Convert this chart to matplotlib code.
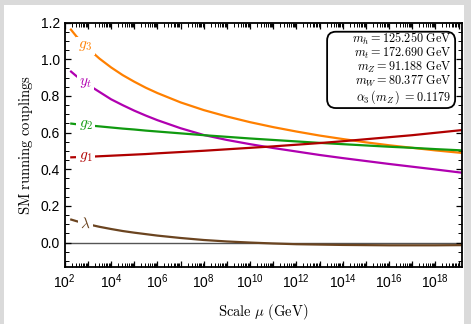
import numpy as np
import matplotlib
matplotlib.use("Agg")
import matplotlib.pyplot as plt
from matplotlib.patches import Rectangle, FancyBboxPatch
from matplotlib.ticker import FixedLocator, LogLocator, FuncFormatter, MultipleLocator, NullFormatter

plt.rcParams['font.family'] = ['Liberation Sans', 'DejaVu Sans']
plt.rcParams['mathtext.fontset'] = 'cm'

# ---- data (log10 of scale in GeV) ----
mu_exp = [2.237, 2.5, 3, 3.5, 4, 4.5, 5, 5.5, 6, 7, 8, 9, 10, 11, 12, 13, 14, 15, 16, 17, 18, 19.16]
g3 = [1.167, 1.126, 1.060, 1.004, 0.956, 0.914, 0.878, 0.845, 0.816, 0.765, 0.723, 0.688,
      0.657, 0.630, 0.606, 0.584, 0.565, 0.547, 0.531, 0.517, 0.503, 0.489]
yt = [0.937, 0.909, 0.862, 0.822, 0.782, 0.750, 0.720, 0.693, 0.668, 0.624, 0.587, 0.560,
      0.537, 0.516, 0.497, 0.478, 0.461, 0.445, 0.429, 0.414, 0.399, 0.381]
g2 = [0.650, 0.646, 0.640, 0.634, 0.628, 0.622, 0.617, 0.611, 0.606, 0.596, 0.586, 0.577,
      0.568, 0.560, 0.552, 0.544, 0.537, 0.530, 0.523, 0.517, 0.510, 0.503]
g1 = [0.465, 0.466, 0.468, 0.471, 0.474, 0.477, 0.480, 0.483, 0.487, 0.494, 0.501, 0.509,
      0.517, 0.525, 0.534, 0.543, 0.553, 0.564, 0.575, 0.586, 0.599, 0.614]
lam = [0.127, 0.117, 0.100, 0.086, 0.074, 0.063, 0.054, 0.046, 0.038, 0.025, 0.014, 0.006,
       0.000, -0.005, -0.009, -0.011, -0.013, -0.014, -0.015, -0.015, -0.015, -0.014]

series = [
    (g3, r'$g_3$', '#ff8000'),
    (yt, r'$y_t$', '#b000b0'),
    (g2, r'$g_2$', '#109a10'),
    (g1, r'$g_1$', '#b00000'),
    (lam, r'$\lambda$', '#6b4420'),
]
label_exp = 2.9

info_lines = [
    r'$m_h = 125.250\ \mathrm{GeV}$',
    r'$m_t = 172.690\ \mathrm{GeV}$',
    r'$m_Z = 91.188\ \mathrm{GeV}$',
    r'$m_W = 80.377\ \mathrm{GeV}$',
    r'$\alpha_3\,(m_Z\,)\; = 0.1179$',
]

mu = 10.0 ** np.array(mu_exp)

fig = plt.figure(figsize=(4.71, 3.24), dpi=100)
fig.patch.set_facecolor('#dadada')
fig.patches.append(Rectangle((4/471, 0), 460/471, 319/324, transform=fig.transFigure,
                             facecolor='white', edgecolor='none', zorder=-10))
ax = fig.add_axes([0.1374, 0.175, 0.8441, 0.755])

ax.axhline(0.0, color='#555555', lw=1.0, zorder=1)
for vals, lab, col in series:
    ax.plot(mu, vals, color=col, lw=1.6, zorder=2, solid_capstyle='butt')
    yl = np.interp(label_exp, mu_exp, vals)
    ax.text(10**label_exp, yl, lab, color=col, fontsize=11, ha='center', va='center',
            zorder=3, bbox=dict(facecolor='white', edgecolor='none', pad=1.5))

ax.set_xscale('log')
ax.set_xlim(1e2, 10**19.16)
ax.set_ylim(-0.135, 1.2)

ax.xaxis.set_major_locator(FixedLocator([10.0**k for k in range(2, 20)]))
ax.xaxis.set_major_formatter(FuncFormatter(
    lambda v, p: (r'$\mathdefault{10^{%d}}$' % round(np.log10(v))) if round(np.log10(v)) % 2 == 0 else ''))
ax.xaxis.set_minor_locator(LogLocator(base=10, subs=np.arange(2, 10), numticks=100))
ax.xaxis.set_minor_formatter(NullFormatter())
ax.yaxis.set_major_locator(MultipleLocator(0.2))
ax.yaxis.set_minor_locator(MultipleLocator(0.05))
ax.yaxis.set_major_formatter(FuncFormatter(lambda v, p: '%.1f' % (v + 0.0)))

ax.tick_params(which='both', direction='in', top=True, right=True, labelsize=10, color='black')
ax.tick_params(which='major', length=4, width=0.9)
ax.tick_params(which='minor', length=3, width=0.7)
for s in ax.spines.values():
    s.set_linewidth(1.3)

ax.set_ylabel(r'$\mathrm{SM\ running\ couplings}$', fontsize=10.5, labelpad=4)
ax.set_xlabel(r'$\mathrm{Scale}\ \mu\ \mathrm{(GeV)}$', fontsize=10.5, labelpad=8)

# info box
aspect = (0.8441 * 471) / (0.755 * 324)
box = FancyBboxPatch((0.660, 0.651), 0.322, 0.312, transform=ax.transAxes,
                     boxstyle='round,pad=0,rounding_size=0.022', mutation_aspect=aspect,
                     facecolor='white', edgecolor='black', linewidth=1.3, zorder=5)
ax.add_patch(box)
ax.text(0.9733, 0.812, '\n'.join(info_lines), transform=ax.transAxes, ha='right', va='center',
        multialignment='right', linespacing=0.9, fontsize=8.8, zorder=6)

fig.savefig('out.png', dpi=100, facecolor=fig.get_facecolor())
